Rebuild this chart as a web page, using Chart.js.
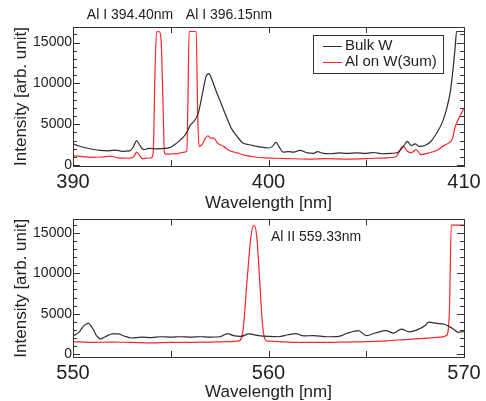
<!DOCTYPE html>
<html>
<head>
<meta charset="utf-8">
<script src="https://cdn.jsdelivr.net/npm/chart.js@4.4.1/dist/chart.umd.min.js"></script>
<style>
  html, body { margin: 0; padding: 0; background: #fff; }
  #wrap { position: relative; width: 486px; height: 401px; }
  canvas { position: absolute; left: 0; }
  #top { top: 0; }
  #bottom { top: 210px; }
</style>
</head>
<body>
<div id="wrap">
  <canvas id="top" width="486" height="216"></canvas>
  <canvas id="bottom" width="486" height="191"></canvas>
</div>
<script>
// --- data ---
const seriesLabels = ['Bulk W', 'Al on W(3um)'];
const yTickValues = [0, 1000, 2000, 3000, 4000, 5000, 6000, 7000, 8000, 9000, 10000, 11000, 12000, 13000, 14000, 15000, 16000];

// upper panel, 390 - 410 nm
const topBulkNm = [390.0, 390.3, 390.7, 391.0, 391.4, 391.8, 392.2, 392.5, 392.9, 393.1, 393.25, 393.4, 393.6, 393.9, 394.3, 394.7, 395.0, 395.3, 395.5, 395.8, 396.0, 396.2, 396.4, 396.6, 396.8, 396.95, 397.1, 397.3, 397.5, 397.8, 398.1, 398.4, 398.7, 399.0, 399.3, 399.6, 400.0, 400.2, 400.38, 400.55, 400.75, 401.0, 401.3, 401.6, 402.0, 402.3, 402.5, 402.8, 403.2, 403.6, 404.0, 404.5, 405.0, 405.4, 405.8, 406.3, 406.6, 406.9, 407.1, 407.3, 407.5, 407.7, 408.0, 408.3, 408.6, 408.9, 409.1, 409.3, 409.45, 409.55, 409.62, 410.0];
const topBulk = [2600, 2350, 2100, 1950, 1800, 1750, 1850, 1700, 1750, 2300, 3000, 2500, 1900, 2050, 2000, 2050, 2200, 2700, 3100, 3900, 4900, 5400, 6300, 8500, 10800, 11200, 10500, 9200, 8000, 6200, 4500, 3500, 2700, 2500, 2350, 2200, 2100, 2300, 2800, 2200, 1600, 1650, 1600, 1800, 1500, 1450, 1650, 1450, 1400, 1500, 1450, 1500, 1450, 1550, 1400, 1450, 1550, 2300, 2900, 2400, 2600, 2300, 2400, 2900, 3900, 5300, 6800, 9000, 12000, 14500, 16350, 16350];

const topAlNm = [390.0, 390.5, 391.0, 391.5, 391.9, 392.3, 392.8, 393.1, 393.25, 393.4, 393.55, 393.8, 394.0, 394.1, 394.2, 394.28, 394.4, 394.5, 394.6, 394.68, 394.8, 395.1, 395.4, 395.7, 395.82, 395.88, 395.94, 396.3, 396.38, 396.45, 396.6, 396.75, 396.9, 397.05, 397.2, 397.4, 397.7, 398.0, 398.4, 398.8, 399.3, 399.8, 400.3, 401.0, 402.0, 403.0, 404.0, 405.0, 406.0, 406.5, 406.65, 406.8, 406.9, 407.1, 407.3, 407.55, 407.8, 408.2, 408.6, 408.9, 409.2, 409.4, 409.55, 409.75, 409.9, 410.0];
const topAl = [1150, 1050, 950, 1000, 1100, 900, 850, 1000, 1600, 1200, 800, 850, 900, 1500, 12000, 16300, 16350, 15500, 8000, 1500, 1350, 1400, 1450, 1600, 1700, 8000, 16350, 16350, 6000, 2300, 2500, 3200, 3600, 3300, 3300, 2700, 2300, 1800, 1500, 1200, 1000, 900, 850, 800, 750, 800, 750, 800, 900, 1000, 1500, 2200, 2300, 1700, 1500, 1900, 1300, 1500, 1800, 2300, 2700, 3200, 4700, 5800, 6500, 7000];

// lower panel, 550 - 570 nm
const botBulkNm = [550.0, 550.3, 550.55, 550.78, 551.0, 551.2, 551.4, 551.7, 552.0, 552.3, 552.6, 553.0, 553.5, 554.0, 554.5, 555.0, 555.5, 556.0, 556.5, 557.0, 557.5, 557.9, 558.2, 558.6, 559.0, 559.5, 560.0, 560.5, 561.0, 561.4, 561.8, 562.3, 563.0, 563.6, 564.0, 564.6, 565.0, 565.5, 566.0, 566.4, 566.8, 567.2, 567.6, 568.0, 568.2, 568.6, 569.0, 569.4, 569.7, 570.0];
const botBulk = [2250, 2700, 3500, 3800, 3200, 2300, 1900, 2200, 2500, 2500, 2250, 2000, 2100, 2050, 2150, 2100, 2150, 2100, 2150, 2100, 2150, 2550, 2300, 2200, 2500, 2300, 2200, 2150, 2400, 2550, 2250, 2300, 2150, 2200, 2550, 2900, 2300, 2650, 2900, 2600, 3100, 2750, 3000, 3500, 3950, 3800, 3700, 3200, 2700, 2800];

const botAlNm = [550.0, 551.0, 552.0, 553.0, 554.0, 555.0, 556.0, 557.0, 558.0, 558.5, 558.7, 558.9, 559.1, 559.26, 559.4, 559.55, 559.7, 559.85, 560.0, 561.0, 562.0, 563.0, 564.0, 565.0, 566.0, 567.0, 568.0, 568.8, 569.1, 569.25, 569.35, 570.0];
const botAl = [1550, 1450, 1500, 1450, 1400, 1450, 1450, 1500, 1550, 1650, 3000, 9000, 14500, 15900, 14500, 9000, 3500, 1700, 1600, 1500, 1450, 1450, 1500, 1550, 1650, 1800, 1950, 2100, 2300, 5000, 15950, 15950];

const lineColors = ['#2e2e2e', '#ff2626'];
const FONT = "'Liberation Sans', Arial, sans-serif";

Chart.defaults.font.family = FONT;
Chart.defaults.color = '#222';

const pts = (xs, ys) => xs.map((x, i) => ({ x, y: ys[i] }));

// frame + inward ticks on all four sides
const framePlugin = {
  id: 'frame',
  afterDraw(chart) {
    const { ctx, chartArea: a, scales: { x, y } } = chart;
    ctx.save();
    ctx.strokeStyle = '#333';
    ctx.lineWidth = 1;
    ctx.beginPath();
    x.ticks.forEach(t => {
      if (t.value % 5 !== 0 || t.value === x.min || t.value === x.max) return;
      const px = Math.round(x.getPixelForValue(t.value)) + 0.5;
      ctx.moveTo(px, a.bottom); ctx.lineTo(px, a.bottom - 6);
      ctx.moveTo(px, a.top); ctx.lineTo(px, a.top + 6);
    });
    y.ticks.forEach(t => {
      const py = Math.round(y.getPixelForValue(t.value)) + 0.5;
      const len = t.value % 5000 === 0 ? 7 : 4;
      ctx.moveTo(a.left, py); ctx.lineTo(a.left + len, py);
      ctx.moveTo(a.right, py); ctx.lineTo(a.right - len, py);
    });
    ctx.stroke();
    ctx.strokeRect(Math.round(a.left) + 0.5, Math.round(a.top) + 0.5,
      Math.round(a.right - a.left), Math.round(a.bottom - a.top));
    ctx.restore();
  }
};

// text notes and legend
const notesPlugin = {
  id: 'notes',
  afterDraw(chart, args, opts) {
    const { ctx } = chart;
    ctx.save();
    ctx.fillStyle = '#222';
    ctx.font = '14px ' + FONT;
    ctx.textBaseline = 'middle';
    (opts.texts || []).forEach(n => {
      ctx.textAlign = n.align || 'center';
      ctx.fillText(n.text, n.x, n.y);
    });
    if (opts.legend) {
      const L = opts.legend;
      ctx.strokeStyle = '#333';
      ctx.lineWidth = 1;
      ctx.strokeRect(L.x + 0.5, L.y + 0.5, L.w, L.h);
      ctx.textAlign = 'left';
      ctx.font = '15px ' + FONT;
      chart.data.datasets.forEach((ds, i) => {
        const ly = L.y + 11 + i * 16;
        ctx.strokeStyle = ds.borderColor;
        ctx.beginPath();
        ctx.moveTo(L.x + 10, ly + 0.5); ctx.lineTo(L.x + 29, ly + 0.5);
        ctx.stroke();
        ctx.fillText(ds.label, L.x + 32, ly);
      });
    }
    ctx.restore();
  }
};

function makeChart(id, bulk, al, xMin, xMax, yMin, yMax, padTop, axisHeight, titlePadBottom, notes) {
  return new Chart(document.getElementById(id), {
    type: 'line',
    data: {
      datasets: [
        { label: seriesLabels[0], data: bulk, borderColor: lineColors[0], borderWidth: 1.2 },
        { label: seriesLabels[1], data: al, borderColor: lineColors[1], borderWidth: 1.2 }
      ]
    },
    options: {
      responsive: false,
      devicePixelRatio: 1,
      animation: false,
      elements: { point: { radius: 0 }, line: { cubicInterpolationMode: 'monotone' } },
      layout: { padding: { left: 0, right: 22, top: padTop, bottom: 0 } },
      plugins: {
        legend: { display: false },
        tooltip: { enabled: false },
        notes: notes
      },
      scales: {
        x: {
          type: 'linear', min: xMin, max: xMax,
          grid: { display: false, drawTicks: false },
          border: { display: false },
          ticks: {
            stepSize: 5, autoSkip: false, maxRotation: 0, padding: 4,
            font: { size: 20 },
            callback: v => (v % 10 === 0 ? v : '')
          },
          title: {
            display: true, text: 'Wavelength [nm]',
            font: { size: 17, lineHeight: 0.8 },
            padding: { top: 0, bottom: titlePadBottom }
          },
          afterFit: s => { s.height = axisHeight; }
        },
        y: {
          min: yMin, max: yMax,
          grid: { display: false, drawTicks: false },
          border: { display: false },
          afterBuildTicks: s => { s.ticks = yTickValues.map(v => ({ value: v })); },
          ticks: {
            autoSkip: false, padding: 1,
            font: { size: 14 },
            callback: v => (v % 5000 === 0 ? v : '')
          },
          title: {
            display: true, text: 'Intensity [arb. unit]',
            font: { size: 17, lineHeight: 0.8 },
            padding: { top: 15, bottom: 0 }
          },
          afterFit: s => { s.width = 73; }
        }
      }
    },
    plugins: [framePlugin, notesPlugin]
  });
}

makeChart('top', pts(topBulkNm, topBulk), pts(topAlNm, topAl), 390, 410, -100, 16900, 27, 50, 6, {
  texts: [
    { text: 'Al I 394.40nm', x: 130, y: 15 },
    { text: 'Al I 396.15nm', x: 229, y: 15 }
  ],
  legend: { x: 313, y: 35, w: 130, h: 38 }
});

makeChart('bottom', pts(botBulkNm, botBulk), pts(botAlNm, botAl), 550, 570, -350, 16650, 7, 44, 2, {
  texts: [
    { text: 'Al II 559.33nm', x: 271, y: 27, align: 'left' }
  ]
});
</script>
</body>
</html>
